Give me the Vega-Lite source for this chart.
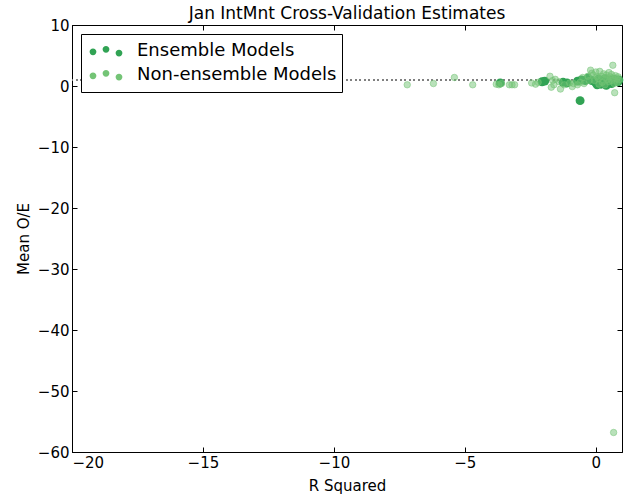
{
  "$schema": "https://vega.github.io/schema/vega-lite/v6.json",
  "width": 550,
  "height": 427,
  "autosize": {"type": "none"},
  "padding": {"left": 72, "top": 25, "right": 5, "bottom": 48},
  "title": {"text": "Jan IntMnt Cross-Validation Estimates", "fontSize": 17, "font": "DejaVu Sans", "fontWeight": "normal", "offset": 5, "dy": 10, "color": "black"},
  "config": {
    "font": "DejaVu Sans",
    "view": {"stroke": "black", "strokeWidth": 1},
    "axis": {"grid": false, "domainColor": "black", "domainWidth": 1, "tickColor": "black", "tickSize": -5, "labelFontSize": 15, "labelColor": "black", "titleFontSize": 15, "titleFontWeight": "normal", "titleColor": "black", "labelPadding": 8, "labelFont": "DejaVu Sans", "titleFont": "DejaVu Sans"}
  },
  "data": {"values": [
    {"r2": -3.65, "oe": 0.5, "type": "Ensemble Models"},
    {"r2": -2.05, "oe": 0.7, "type": "Ensemble Models"},
    {"r2": -1.95, "oe": 0.8, "type": "Ensemble Models"},
    {"r2": -1.25, "oe": 0.6, "type": "Ensemble Models"},
    {"r2": -1.1, "oe": 0.5, "type": "Ensemble Models"},
    {"r2": -0.7, "oe": 0.8, "type": "Ensemble Models"},
    {"r2": -0.6, "oe": -2.4, "type": "Ensemble Models"},
    {"r2": -0.55, "oe": 1.0, "type": "Ensemble Models"},
    {"r2": -0.4, "oe": 0.9, "type": "Ensemble Models"},
    {"r2": -0.3, "oe": 1.3, "type": "Ensemble Models"},
    {"r2": -0.15, "oe": 0.9, "type": "Ensemble Models"},
    {"r2": 0.0, "oe": 0.5, "type": "Ensemble Models"},
    {"r2": 0.05, "oe": 0.2, "type": "Ensemble Models"},
    {"r2": 0.1, "oe": 1.1, "type": "Ensemble Models"},
    {"r2": 0.2, "oe": 0.3, "type": "Ensemble Models"},
    {"r2": 0.3, "oe": 0.8, "type": "Ensemble Models"},
    {"r2": 0.35, "oe": 1.2, "type": "Ensemble Models"},
    {"r2": 0.45, "oe": 0.6, "type": "Ensemble Models"},
    {"r2": 0.55, "oe": 1.0, "type": "Ensemble Models"},
    {"r2": 0.6, "oe": 0.4, "type": "Ensemble Models"},
    {"r2": 0.7, "oe": 1.1, "type": "Ensemble Models"},
    {"r2": 0.8, "oe": 0.9, "type": "Ensemble Models"},
    {"r2": 0.85, "oe": 0.7, "type": "Ensemble Models"},
    {"r2": 0.88, "oe": 1.0, "type": "Ensemble Models"},
    {"r2": 0.4, "oe": 0.1, "type": "Ensemble Models"},
    {"r2": -7.2, "oe": 0.2, "type": "Non-ensemble Models"},
    {"r2": -6.2, "oe": 0.4, "type": "Non-ensemble Models"},
    {"r2": -5.4, "oe": 1.4, "type": "Non-ensemble Models"},
    {"r2": -4.7, "oe": 0.2, "type": "Non-ensemble Models"},
    {"r2": -3.8, "oe": 0.3, "type": "Non-ensemble Models"},
    {"r2": -3.7, "oe": 0.2, "type": "Non-ensemble Models"},
    {"r2": -3.6, "oe": 0.4, "type": "Non-ensemble Models"},
    {"r2": -3.3, "oe": 0.2, "type": "Non-ensemble Models"},
    {"r2": -3.2, "oe": 0.2, "type": "Non-ensemble Models"},
    {"r2": -3.1, "oe": 0.2, "type": "Non-ensemble Models"},
    {"r2": -2.45, "oe": 0.5, "type": "Non-ensemble Models"},
    {"r2": -2.3, "oe": 0.3, "type": "Non-ensemble Models"},
    {"r2": -2.2, "oe": 0.6, "type": "Non-ensemble Models"},
    {"r2": -1.75, "oe": 1.6, "type": "Non-ensemble Models"},
    {"r2": -1.65, "oe": 0.9, "type": "Non-ensemble Models"},
    {"r2": -1.6, "oe": 0.2, "type": "Non-ensemble Models"},
    {"r2": -1.55, "oe": 1.1, "type": "Non-ensemble Models"},
    {"r2": -1.7, "oe": -0.2, "type": "Non-ensemble Models"},
    {"r2": -1.4, "oe": 0.7, "type": "Non-ensemble Models"},
    {"r2": -1.35, "oe": -0.5, "type": "Non-ensemble Models"},
    {"r2": -1.2, "oe": 0.2, "type": "Non-ensemble Models"},
    {"r2": -1.0, "oe": 0.5, "type": "Non-ensemble Models"},
    {"r2": -0.9, "oe": -0.1, "type": "Non-ensemble Models"},
    {"r2": -0.85, "oe": 0.4, "type": "Non-ensemble Models"},
    {"r2": -0.7, "oe": 0.2, "type": "Non-ensemble Models"},
    {"r2": -0.5, "oe": 1.4, "type": "Non-ensemble Models"},
    {"r2": -0.45, "oe": 0.4, "type": "Non-ensemble Models"},
    {"r2": -0.3, "oe": 1.6, "type": "Non-ensemble Models"},
    {"r2": -0.2, "oe": 2.6, "type": "Non-ensemble Models"},
    {"r2": -0.15, "oe": 2.1, "type": "Non-ensemble Models"},
    {"r2": -0.1, "oe": 1.8, "type": "Non-ensemble Models"},
    {"r2": -0.05, "oe": 0.9, "type": "Non-ensemble Models"},
    {"r2": 0.0, "oe": 2.3, "type": "Non-ensemble Models"},
    {"r2": 0.05, "oe": 1.5, "type": "Non-ensemble Models"},
    {"r2": 0.1, "oe": 1.2, "type": "Non-ensemble Models"},
    {"r2": 0.15, "oe": 2.4, "type": "Non-ensemble Models"},
    {"r2": 0.2, "oe": 1.6, "type": "Non-ensemble Models"},
    {"r2": 0.25, "oe": 0.6, "type": "Non-ensemble Models"},
    {"r2": 0.3, "oe": 2.0, "type": "Non-ensemble Models"},
    {"r2": 0.35, "oe": 1.4, "type": "Non-ensemble Models"},
    {"r2": 0.4, "oe": 1.8, "type": "Non-ensemble Models"},
    {"r2": 0.45, "oe": 1.1, "type": "Non-ensemble Models"},
    {"r2": 0.5, "oe": 2.2, "type": "Non-ensemble Models"},
    {"r2": 0.5, "oe": 0.7, "type": "Non-ensemble Models"},
    {"r2": 0.55, "oe": 1.5, "type": "Non-ensemble Models"},
    {"r2": 0.6, "oe": 1.9, "type": "Non-ensemble Models"},
    {"r2": 0.6, "oe": 0.9, "type": "Non-ensemble Models"},
    {"r2": 0.65, "oe": 3.4, "type": "Non-ensemble Models"},
    {"r2": 0.65, "oe": 1.3, "type": "Non-ensemble Models"},
    {"r2": 0.7, "oe": 0.4, "type": "Non-ensemble Models"},
    {"r2": 0.72, "oe": -1.1, "type": "Non-ensemble Models"},
    {"r2": 0.75, "oe": 1.7, "type": "Non-ensemble Models"},
    {"r2": 0.8, "oe": 1.2, "type": "Non-ensemble Models"},
    {"r2": 0.82, "oe": 0.6, "type": "Non-ensemble Models"},
    {"r2": 0.85, "oe": 1.5, "type": "Non-ensemble Models"},
    {"r2": 0.88, "oe": 1.0, "type": "Non-ensemble Models"},
    {"r2": 0.68, "oe": -56.8, "type": "Non-ensemble Models"},
    {"r2": -0.25, "oe": 0.9, "type": "Non-ensemble Models"},
    {"r2": -0.6, "oe": 0.6, "type": "Non-ensemble Models"},
    {"r2": 0.12, "oe": 0.3, "type": "Non-ensemble Models"},
    {"r2": 0.35, "oe": 0.2, "type": "Non-ensemble Models"}
  ]},
  "layer": [
    {
      "mark": {"type": "rule", "color": "#808080", "strokeDash": [1.5, 3], "strokeWidth": 1.3},
      "encoding": {
        "y": {"datum": 1, "type": "quantitative", "axis": null, "scale": {"domain": [-60, 10], "nice": false}}
      }
    },
    {
      "transform": [{"filter": "datum.type == 'Ensemble Models'"}],
      "mark": {"type": "point", "filled": true, "size": 80, "opacity": 1, "strokeWidth": 0},
      "encoding": {
        "x": {"field": "r2", "type": "quantitative", "title": "R Squared", "scale": {"domain": [-20, 1], "nice": false}, "axis": {"values": [-20, -15, -10, -5, 0], "titlePadding": 8}},
        "y": {"field": "oe", "type": "quantitative", "title": "Mean O/E", "scale": {"domain": [-60, 10], "nice": false}, "axis": {"values": [-60, -50, -40, -30, -20, -10, 0, 10], "titlePadding": 6}},
        "color": {
          "field": "type", "type": "nominal",
          "scale": {"domain": ["Ensemble Models", "Non-ensemble Models"], "range": ["#31a354", "#74c476"]},
          "legend": {
            "title": null, "orient": "top-left", "offset": 9,
            "strokeColor": "black", "fillColor": "white", "padding": 5,
            "labelFontSize": 18, "labelFont": "DejaVu Sans", "labelColor": "black", "labelLimit": 0,
            "symbolType": "M -0.965 0.05 A 0.2 0.2 0 1 0 -0.565 0.05 A 0.2 0.2 0 1 0 -0.965 0.05 Z M -0.2 -0.1 A 0.2 0.2 0 1 0 0.2 -0.1 A 0.2 0.2 0 1 0 -0.2 -0.1 Z M 0.565 0.12 A 0.2 0.2 0 1 0 0.965 0.12 A 0.2 0.2 0 1 0 0.565 0.12 Z",
            "symbolSize": 1156, "symbolOffset": 2, "labelOffset": 13,
            "clipHeight": 24, "rowPadding": 0,
            "encode": {"symbols": {"update": {
              "size": {"signal": "datum.value == 'Ensemble Models' ? 1156 : 900"},
              "fill": {"signal": "datum.value == 'Ensemble Models' ? '#31a354' : '#74c476'"},
              "fillOpacity": {"signal": "datum.value == 'Ensemble Models' ? 1 : 0.5"},
              "stroke": {"signal": "datum.value == 'Ensemble Models' ? '#31a354' : '#74c476'"},
              "strokeOpacity": {"signal": "datum.value == 'Ensemble Models' ? 1 : 0.6"},
              "strokeWidth": {"signal": "datum.value == 'Ensemble Models' ? 2 : 1.2"},
              "opacity": {"value": 1}
            }}}
          }
        }
      }
    },
    {
      "transform": [{"filter": "datum.type == 'Non-ensemble Models'"}],
      "mark": {"type": "point", "filled": true, "size": 42, "fillOpacity": 0.5, "stroke": "#74c476", "strokeOpacity": 0.5, "strokeWidth": 1},
      "encoding": {
        "x": {"field": "r2", "type": "quantitative", "scale": {"domain": [-20, 1], "nice": false}, "axis": {"orient": "top", "values": [-20, -15, -10, -5, 0], "labels": false, "title": null, "domain": false}},
        "y": {"field": "oe", "type": "quantitative", "scale": {"domain": [-60, 10], "nice": false}, "axis": {"orient": "right", "values": [-60, -50, -40, -30, -20, -10, 0, 10], "labels": false, "title": null, "domain": false}},
        "color": {"field": "type", "type": "nominal", "scale": {"domain": ["Ensemble Models", "Non-ensemble Models"], "range": ["#31a354", "#74c476"]}}
      }
    }
  ],
  "resolve": {"axis": {"x": "independent", "y": "independent"}}
}
